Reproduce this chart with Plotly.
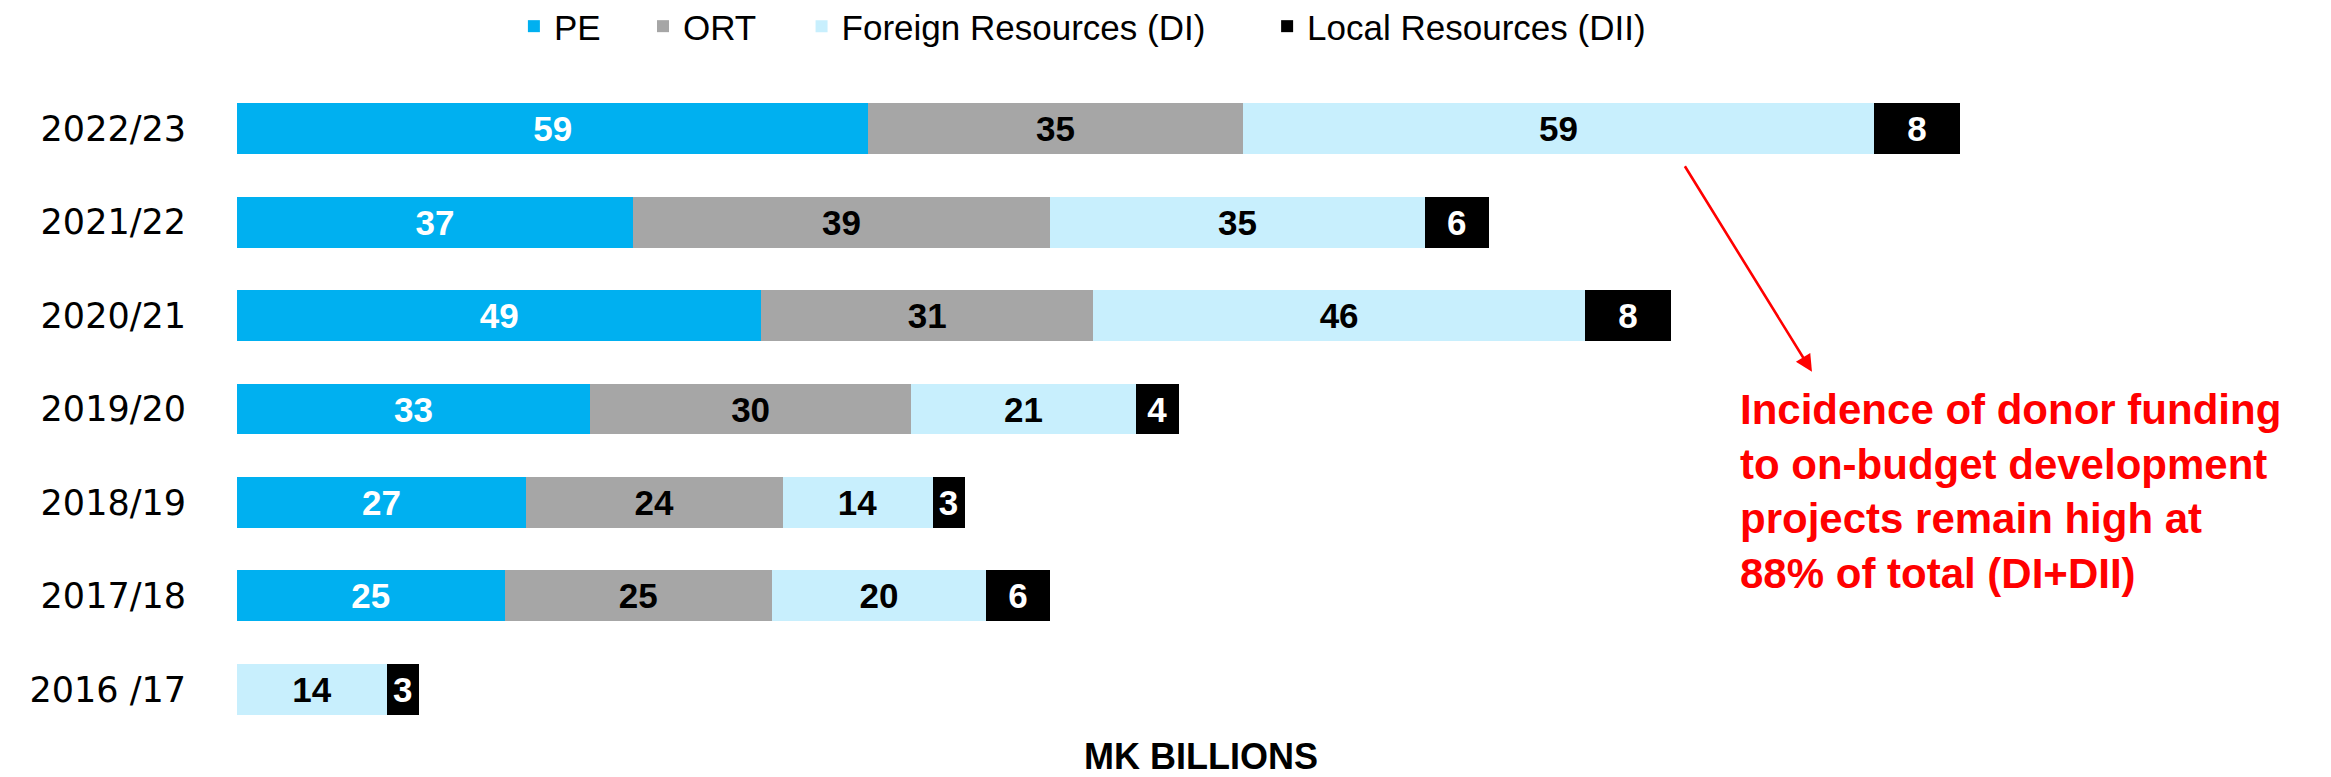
import plotly.graph_objects as go

# ---- data ----
years = ["2022/23", "2021/22", "2020/21", "2019/20", "2018/19", "2017/18", "2016 /17"]
pe = [59, 37, 49, 33, 27, 25, None]
ort = [35, 39, 31, 30, 24, 25, None]
foreign_di = [59, 35, 46, 21, 14, 20, 14]
local_dii = [8, 6, 8, 4, 3, 6, 3]

series_names = ["PE", "ORT", "Foreign Resources (DI)", "Local Resources (DII)"]
series_values = [pe, ort, foreign_di, local_dii]
series_colors = ["#00B0F0", "#A6A6A6", "#C8EFFD", "#000000"]
label_colors = ["white", "black", "black", "white"]
legend_ids = ["legend", "legend2", "legend3", "legend4"]
legend_x = [0.1362, 0.1997, 0.2777, 0.5067]

note_text = ("Incidence of donor funding<br>to on-budget development<br>"
             "projects remain high at<br>88% of total (DI+DII)")
x_title = "MK BILLIONS"

fig = go.Figure()
for name, vals, col, lcol, lg in zip(series_names, series_values, series_colors,
                                     label_colors, legend_ids):
    fig.add_trace(go.Bar(
        y=years, x=vals, name=name, orientation="h",
        marker=dict(color=col, line=dict(width=0)),
        text=["" if v is None else str(v) for v in vals],
        textposition="inside", insidetextanchor="middle",
        constraintext="none",
        textfont=dict(family="Liberation Sans, Arial, sans-serif", size=35,
                      color=lcol, weight="bold"),
        legend=lg, hoverinfo="x+y+name",
    ))

layout_legends = {}
for lg, lx in zip(legend_ids, legend_x):
    layout_legends[lg] = dict(
        orientation="h", x=lx, xanchor="left", y=1.085, yanchor="middle",
        xref="paper", yref="paper",
        font=dict(family="Liberation Sans, Arial, sans-serif", size=35, color="black"),
        bgcolor="rgba(0,0,0,0)", borderwidth=0,
    )

# the page body adds an 8px offset, so the figure is sized/placed to compensate
fig.update_layout(
    barmode="stack", bargap=0.455,
    width=2323, height=769, autosize=False,
    margin=dict(l=229, r=61, t=74, b=40.5, pad=0, autoexpand=False),
    plot_bgcolor="white", paper_bgcolor="white",
    showlegend=True,
    **layout_legends,
    xaxis=dict(range=[0, 190], visible=False, showgrid=False, zeroline=False),
    yaxis=dict(categoryorder="array", categoryarray=years[::-1],
               tickfont=dict(family="DejaVu Sans, Verdana, sans-serif", size=35, color="black"),
               ticks="", showline=False, showgrid=False, zeroline=False,
               automargin=False, ticklabelstandoff=50),
)

fig.add_annotation(
    text=note_text, xref="paper", yref="paper", x=0.7383, y=0.3736,
    xanchor="left", yanchor="middle", align="left", showarrow=False,
    font=dict(family="Liberation Sans, Arial, sans-serif", size=42, color="#FF0000",
              weight="bold"),
)
fig.add_annotation(
    text="", xref="paper", yref="paper", x=0.7747, y=0.5569,
    ax=-128, ay=-207, showarrow=True, arrowhead=2, arrowsize=1.3,
    arrowwidth=2.6, arrowcolor="#FF0000", standoff=0,
)
fig.add_annotation(
    text=x_title, xref="paper", yref="paper", x=0.474, y=-0.031,
    xanchor="center", yanchor="middle", showarrow=False,
    font=dict(family="Liberation Sans, Arial, sans-serif", size=36, color="black",
              weight="bold"),
)

fig.write_html("out.html")
